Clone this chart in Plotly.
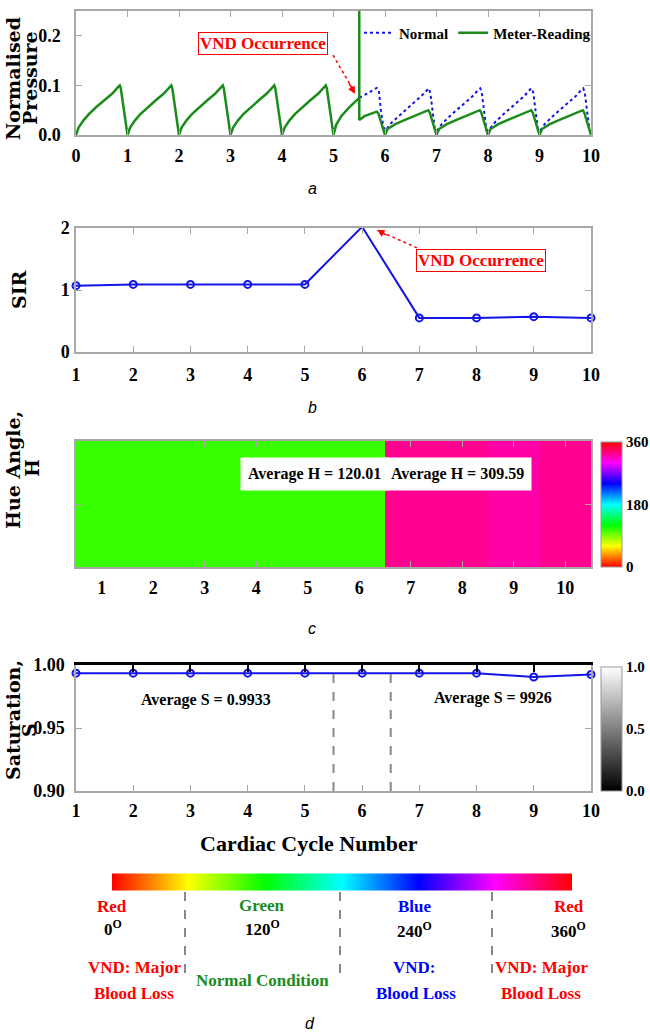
import plotly.graph_objects as go

# ---------------- data ----------------
cycles = [1, 2, 3, 4, 5, 6, 7, 8, 9, 10]
sir_values = [1.07, 1.09, 1.09, 1.09, 1.09, 2.02, 0.55, 0.55, 0.57, 0.55]
hue_values = [107, 107, 107, 107, 107, 107, 326, 326, 321, 326]
sat_values = [0.9935, 0.9935, 0.9935, 0.9935, 0.9935, 0.9935, 0.9935, 0.9935, 0.9905, 0.9925]

# panel a: meter-reading pressure
t_meter = [
    0.00, 0.05, 0.15, 0.25, 0.40, 0.55, 0.70, 0.82, 0.85, 0.87,
    1.00, 1.05, 1.15, 1.25, 1.40, 1.55, 1.70, 1.82, 1.85, 1.87,
    2.00, 2.05, 2.15, 2.25, 2.40, 2.55, 2.70, 2.82, 2.85, 2.87,
    3.00, 3.05, 3.15, 3.25, 3.40, 3.55, 3.70, 3.82, 3.85, 3.87,
    4.00, 4.05, 4.15, 4.25, 4.40, 4.55, 4.70, 4.82, 4.85, 4.87,
    5.00, 5.05, 5.15, 5.30, 5.47, 5.50, 5.50, 5.50, 5.60, 5.75, 5.84, 5.87,
    6.00, 6.05, 6.20, 6.40, 6.60, 6.80, 6.84, 6.87,
    7.00, 7.05, 7.20, 7.40, 7.60, 7.80, 7.84, 7.87,
    8.00, 8.05, 8.20, 8.40, 8.60, 8.80, 8.84, 8.87,
    9.00, 9.05, 9.20, 9.40, 9.60, 9.80, 9.84, 9.87,
    10.00,
]
p_meter = [
    0.000, 0.015, 0.030, 0.042, 0.057, 0.070, 0.083, 0.097, 0.100, 0.094,
    0.000, 0.015, 0.030, 0.042, 0.057, 0.070, 0.083, 0.097, 0.100, 0.094,
    0.000, 0.015, 0.030, 0.042, 0.057, 0.070, 0.083, 0.097, 0.100, 0.094,
    0.000, 0.015, 0.030, 0.042, 0.057, 0.070, 0.083, 0.097, 0.100, 0.094,
    0.000, 0.015, 0.030, 0.042, 0.057, 0.070, 0.083, 0.097, 0.100, 0.094,
    0.000, 0.020, 0.038, 0.055, 0.072, 0.075, 0.300, 0.030, 0.038, 0.043, 0.047, 0.044,
    0.000, 0.012, 0.022, 0.031, 0.040, 0.048, 0.050, 0.045,
    0.000, 0.012, 0.022, 0.031, 0.040, 0.048, 0.050, 0.045,
    0.000, 0.012, 0.022, 0.031, 0.040, 0.048, 0.050, 0.045,
    0.000, 0.012, 0.022, 0.031, 0.040, 0.048, 0.050, 0.045,
    0.000,
]
# panel a: normal pressure (shown after the VND event)
t_normal = [
    5.50, 5.60, 5.70, 5.80, 5.84, 5.88, 5.92, 5.97,
    6.02, 6.10, 6.30, 6.50, 6.70, 6.82, 6.85, 6.88, 6.93, 6.97,
    7.02, 7.10, 7.30, 7.50, 7.70, 7.82, 7.85, 7.88, 7.93, 7.97,
    8.02, 8.10, 8.30, 8.50, 8.70, 8.82, 8.85, 8.88, 8.93, 8.97,
    9.02, 9.10, 9.30, 9.50, 9.70, 9.82, 9.85, 9.88, 9.93, 9.97,
]
p_normal = [
    0.075, 0.080, 0.086, 0.093, 0.095, 0.090, 0.050, 0.015,
    0.010, 0.022, 0.042, 0.060, 0.078, 0.092, 0.094, 0.085, 0.040, 0.010,
    0.010, 0.022, 0.042, 0.060, 0.078, 0.092, 0.094, 0.085, 0.040, 0.010,
    0.010, 0.022, 0.042, 0.060, 0.078, 0.092, 0.094, 0.085, 0.040, 0.010,
    0.010, 0.022, 0.042, 0.060, 0.078, 0.092, 0.094, 0.085, 0.040, 0.010,
]

time_ticks = [0, 1, 2, 3, 4, 5, 6, 7, 8, 9, 10]
pressure_ticks = [0.0, 0.1, 0.2]
sir_ticks = [0, 1, 2]
sat_ticks = [0.90, 0.95, 1.00]
hue_bar_ticks = [0, 180, 360]
gray_bar_ticks = [0.0, 0.5, 1.0]

# ---------------- style helpers ----------------
W, H = 650, 1032


def px(x):
    return x / W


def py(y):
    return 1 - y / H


SERIF = "Liberation Serif"
tickfont = dict(family=SERIF, size=18, color="black", weight="bold")
cbfont = dict(family=SERIF, size=15, color="black", weight="bold")
titlefont = dict(family="DejaVu Serif", size=19, color="black", weight="bold")
GREY = "#a8a8a8"
BLUE = "#1414e6"
GREEN = "#1b8c1b"
RED = "#ff0000"

XDOM = [px(76), px(591)]

hue_scale = [
    [0.0, "#ff0000"], [1 / 6, "#ffff00"], [2 / 6, "#00ff00"], [3 / 6, "#00ffff"],
    [4 / 6, "#0000ff"], [5 / 6, "#ff00ff"], [1.0, "#ff0000"],
]
gray_scale = [[0.0, "#000000"], [1.0, "#ffffff"]]

fig = go.Figure()

# panel a
fig.add_trace(go.Scatter(x=t_normal, y=p_normal, mode="lines", name="Normal",
                         line=dict(color=BLUE, width=2, dash="dot"),
                         xaxis="x", yaxis="y"))
fig.add_trace(go.Scatter(x=t_meter, y=p_meter, mode="lines", name="Meter-Reading",
                         line=dict(color=GREEN, width=2.5),
                         xaxis="x", yaxis="y"))
# panel b
fig.add_trace(go.Scatter(x=cycles, y=sir_values, mode="lines+markers", showlegend=False,
                         line=dict(color=BLUE, width=2),
                         marker=dict(symbol="circle-open", size=7, color=BLUE, line=dict(width=2)),
                         cliponaxis=False, xaxis="x2", yaxis="y2"))
# panel c
fig.add_trace(go.Heatmap(x=cycles, y=[0], z=[hue_values], coloraxis="coloraxis",
                         showlegend=False, xaxis="x3", yaxis="y3"))
fig.add_trace(go.Heatmap(x=cycles, y=[0], z=[hue_values], coloraxis="coloraxis2",
                         showlegend=False, xaxis="x3", yaxis="y3"))
# panel d
fig.add_trace(go.Scatter(x=cycles, y=sat_values, mode="lines+markers", showlegend=False,
                         line=dict(color=BLUE, width=2),
                         marker=dict(symbol="circle-open", size=7, color=BLUE, line=dict(width=2)),
                         cliponaxis=False, xaxis="x4", yaxis="y4"))
fig.add_trace(go.Scatter(x=cycles, y=sat_values, mode="markers", showlegend=False,
                         marker=dict(color=sat_values, coloraxis="coloraxis3", opacity=0),
                         hoverinfo="skip", xaxis="x5", yaxis="y4"))

common_x = dict(showline=True, linecolor=GREY, linewidth=1.5, mirror="ticks", ticks="inside",
                ticklen=6, tickcolor=GREY, showgrid=False, zeroline=False, tickfont=tickfont,
                domain=XDOM)
common_y = dict(showline=True, linecolor=GREY, linewidth=1.5, mirror="ticks", ticks="inside",
                ticklen=6, tickcolor=GREY, showgrid=False, zeroline=False, tickfont=tickfont)

fig.update_layout(
    width=W, height=H, margin=dict(l=0, r=0, t=0, b=0, autoexpand=False),
    paper_bgcolor="white", plot_bgcolor="white",
    showlegend=True,
    legend=dict(orientation="h", x=px(359), y=py(33), xanchor="left", yanchor="middle",
                bgcolor="rgba(0,0,0,0)", font=dict(family=SERIF, size=15, color="black", weight="bold"),
                itemwidth=30, tracegroupgap=0),
    xaxis=dict(common_x, anchor="y", range=[0, 10], tickvals=time_ticks, ticklabelstandoff=4),
    yaxis=dict(common_y, anchor="x", domain=[py(135), py(11)], range=[0, 0.25],
               tickvals=pressure_ticks, tickformat=".1f", ticklabelstandoff=10),
    xaxis2=dict(common_x, anchor="y2", range=[1, 10], tickvals=cycles, ticklabelstandoff=6),
    yaxis2=dict(common_y, anchor="x2", domain=[py(352), py(228)], range=[0, 2],
                tickvals=sir_ticks, ticklabelstandoff=1),
    xaxis3=dict(common_x, anchor="y3", range=[0.5, 10.5], tickvals=cycles, ticklabelstandoff=4),
    yaxis3=dict(common_y, anchor="x3", domain=[py(567), py(441)], range=[-0.5, 0.5],
                tickvals=[0], showticklabels=False),
    xaxis4=dict(common_x, anchor="y4", range=[1, 10], tickvals=cycles, ticklabelstandoff=3),
    yaxis4=dict(common_y, anchor="x4", domain=[py(791), py(665)], range=[0.9, 1.0],
                tickvals=sat_ticks, tickformat=".2f", ticklabelstandoff=6),
    xaxis5=dict(overlaying="x4", anchor="y4", side="top", range=[1, 10], tickvals=cycles,
                showline=True, linecolor="black", linewidth=3, ticks="inside", ticklen=7,
                tickcolor="black", tickwidth=1.5, showticklabels=False, showgrid=False,
                zeroline=False, domain=XDOM),
    coloraxis=dict(cmin=0, cmax=360, colorscale=hue_scale,
                   colorbar=dict(x=px(601), xanchor="left", y=py(504.5), yanchor="middle",
                                 len=125 / H, lenmode="fraction", thickness=21, thicknessmode="pixels",
                                 xpad=0, ypad=0, outlinewidth=1, outlinecolor="#999999",
                                 tickvals=hue_bar_ticks, ticks="", tickfont=cbfont)),
    coloraxis2=dict(cmin=0, cmax=360, colorscale=hue_scale,
                    colorbar=dict(orientation="h", x=px(342), xanchor="center", y=py(882), yanchor="middle",
                                  len=460 / W, lenmode="fraction", thickness=17, thicknessmode="pixels",
                                  xpad=0, ypad=0, outlinewidth=0, showticklabels=False, ticks="")),
    coloraxis3=dict(cmin=0, cmax=1, colorscale=gray_scale,
                    colorbar=dict(x=px(601), xanchor="left", y=py(729), yanchor="middle",
                                  len=124 / H, lenmode="fraction", thickness=21, thicknessmode="pixels",
                                  xpad=0, ypad=0, outlinewidth=1, outlinecolor="#999999",
                                  tickvals=gray_bar_ticks, tickformat=".1f", ticks="", tickfont=cbfont)),
)

ann = []
boxfont = dict(family=SERIF, size=17, color=RED, weight="bold")
# panel a VND box + dashed arrow
ann.append(dict(text="VND Occurrence", x=3.63, y=0.185, xref="x", yref="y", showarrow=False,
                font=boxfont, bgcolor="white", bordercolor=RED, borderwidth=1, borderpad=1))
ann.append(dict(text="", x=5.42, y=0.083, xref="x", yref="y", showarrow=True, ax=-7, ay=-12,
                arrowhead=2, arrowsize=1, arrowwidth=1.5, arrowcolor=RED))
# panel b VND box + dashed arrow
ann.append(dict(text="VND Occurrence", x=8.08, y=1.47, xref="x2", yref="y2", showarrow=False,
                font=boxfont, bgcolor="white", bordercolor=RED, borderwidth=1, borderpad=1))
ann.append(dict(text="", x=6.26, y=1.97, xref="x2", yref="y2", showarrow=True, ax=11, ay=6,
                arrowhead=2, arrowsize=1, arrowwidth=1.5, arrowcolor=RED))
# panel c boxes
hfont = dict(family=SERIF, size=16, color="black", weight="bold")
ann.append(dict(text="Average H = 120.01", x=5.13, y=0.24, xref="x3", yref="y3", showarrow=False,
                font=hfont, bgcolor="white", borderpad=7))
ann.append(dict(text="Average H = 309.59", x=7.90, y=0.24, xref="x3", yref="y3", showarrow=False,
                font=hfont, bgcolor="white", borderpad=7))
# panel d text
sfont = dict(family=SERIF, size=16, color="black", weight="bold")
ann.append(dict(text="Average S = 0.9933", x=3.27, y=0.972, xref="x4", yref="y4", showarrow=False, font=sfont))
ann.append(dict(text="Average S = 9926", x=8.29, y=0.974, xref="x4", yref="y4", showarrow=False, font=sfont))

# axis titles (rotated, one annotation per line)
for txt, cx, cy in [("Normalised", 13, 79), ("Pressure", 30, 78), ("SIR", 19, 290),
                    ("Hue Angle,", 13, 470), ("H", 32, 468),
                    ("Saturation,", 13, 720), ("S", 29, 730)]:
    ann.append(dict(text=txt, x=px(cx), y=py(cy), xref="paper", yref="paper", textangle=-90,
                    showarrow=False, font=titlefont, xanchor="center", yanchor="middle"))
ann.append(dict(text="Cardiac Cycle Number", x=px(309), y=py(843), xref="paper", yref="paper",
                showarrow=False, font=dict(family=SERIF, size=22, color="black", weight="bold"),
                xanchor="center", yanchor="middle"))
# panel letters
for txt, cx, cy in [("a", 312, 188), ("b", 312, 407), ("c", 312, 628), ("d", 310, 1023)]:
    ann.append(dict(text="<i>%s</i>" % txt, x=px(cx), y=py(cy), xref="paper", yref="paper",
                    showarrow=False, font=dict(family="Liberation Sans", size=16, color="black"),
                    xanchor="center", yanchor="middle"))

# colour wheel legend
lf = 17
legend_items = [
    ("Red", 112, 906, RED), ("0<sup>O</sup>", 113, 928, "black"),
    ("VND: Major", 134, 967, RED), ("Blood Loss", 134, 993, RED),
    ("Green", 262, 905, GREEN), ("120<sup>O</sup>", 262, 928, "black"),
    ("Normal Condition", 262, 980, GREEN),
    ("Blue", 415, 906, "#0000ff"), ("240<sup>O</sup>", 415, 930, "black"),
    ("VND:", 415, 967, "#0000ff"), ("Blood Loss", 416, 993, "#0000ff"),
    ("Red", 569, 906, RED), ("360<sup>O</sup>", 568, 930, "black"),
    ("VND: Major", 541, 967, RED), ("Blood Loss", 541, 993, RED),
]
for txt, cx, cy, col in legend_items:
    ann.append(dict(text=txt, x=px(cx), y=py(cy), xref="paper", yref="paper", showarrow=False,
                    font=dict(family=SERIF, size=lf, color=col, weight="bold"),
                    xanchor="center", yanchor="middle"))

fig.update_layout(annotations=ann)

shapes = []
# dashed arrow shafts
shapes.append(dict(type="line", xref="x", yref="y", x0=4.99, y0=0.161, x1=5.40, y1=0.088,
                   line=dict(color=RED, width=1.5, dash="dot")))
shapes.append(dict(type="line", xref="x2", yref="y2", x0=6.96, y0=1.68, x1=6.30, y1=1.95,
                   line=dict(color=RED, width=1.5, dash="dot")))
# panel d separators
for xv in [5.5, 6.5]:
    shapes.append(dict(type="line", xref="x4", yref="y4", x0=xv, x1=xv, y0=0.9, y1=1.0,
                       line=dict(color="#888888", width=2, dash="dash")))
# colour wheel separators
for xpix, y1 in [(185, 980), (340, 977), (492, 977)]:
    shapes.append(dict(type="line", xref="paper", yref="paper", x0=px(xpix), x1=px(xpix),
                       y0=py(874), y1=py(y1), line=dict(color="#888888", width=2, dash="dash")))
fig.update_layout(shapes=shapes)

# remove the default page margin so the 650x1032 figure fills the window exactly
fig.write_html("out.html", config={"displayModeBar": False},
               post_script="document.body.style.margin='0px';document.body.style.overflow='hidden';")
